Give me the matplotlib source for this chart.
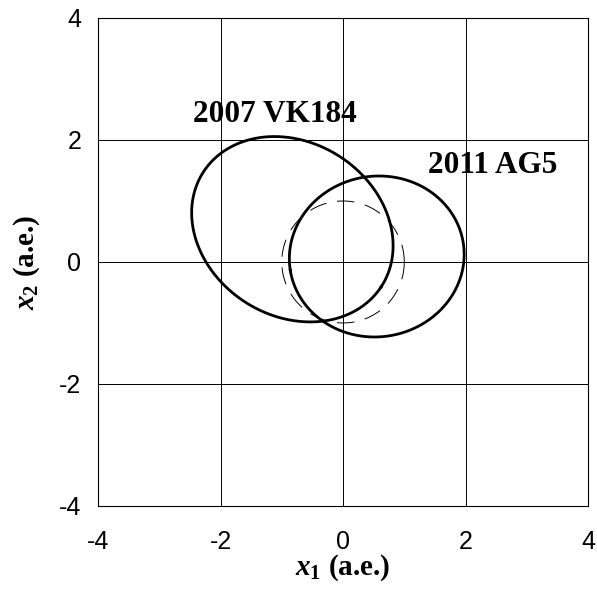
import matplotlib
matplotlib.use("Agg")
import matplotlib.pyplot as plt
import numpy as np

# orbit elements (projection on ecliptic plane)
names = ["2007 VK184", "2011 AG5"]
semi_major = [1.73, 1.43]      # a.e.
ecc = [0.57, 0.39]
peri_long = [327.0, 189.3]     # longitude of perihelion, deg
earth_r = 1.0

label_x = [-2.45, 1.39]
label_y = [2.42, 1.58]

ticks = [-4, -2, 0, 2, 4]
tick_labels = ['-4', '-2', '0', '2', '4']

plt.rcParams['mathtext.fontset'] = 'custom'
plt.rcParams['mathtext.it'] = 'Liberation Serif:italic:bold'
plt.rcParams['mathtext.rm'] = 'Liberation Serif:bold'

fig = plt.figure(figsize=(5.97, 5.90), dpi=100)
ax = fig.add_axes([0.1642, 0.1424, 0.8208, 0.8271])

nu = np.linspace(0, 2 * np.pi, 721)

# Earth orbit
ax.plot(earth_r * np.cos(nu), earth_r * np.sin(nu), color='k', lw=0.7,
        linestyle=(0, (18, 11)))

for a, e, w in zip(semi_major, ecc, peri_long):
    r = a * (1 - e**2) / (1 + e * np.cos(nu))
    th = nu + np.radians(w)
    ax.plot(r * np.cos(th), r * np.sin(th), color='k', lw=2.0)

for n, tx, ty in zip(names, label_x, label_y):
    ax.text(tx, ty, n, family='Liberation Serif', fontweight='bold',
            fontsize=22.5, ha='left', va='center')

ax.set_xlim(-4, 4)
ax.set_ylim(-4, 4)
ax.set_xticks(ticks)
ax.set_yticks(ticks)
ax.set_xticklabels(tick_labels)
ax.set_yticklabels(tick_labels)
ax.grid(True, color='k', lw=0.7)
ax.set_axisbelow(True)
for s in ax.spines.values():
    s.set_linewidth(0.8)

ax.tick_params(length=0, labelsize=18)
ax.tick_params(axis='x', pad=17)
ax.tick_params(axis='y', pad=12)
for lab in ax.get_xticklabels() + ax.get_yticklabels():
    lab.set_family('Liberation Sans')

ax.set_xlabel(r'$x_1$ (a.e.)', family='Liberation Serif', fontweight='bold', fontsize=21)
ax.set_ylabel(r'$x_2$ (a.e.)', family='Liberation Serif', fontweight='bold', fontsize=21)
ax.xaxis.set_label_coords(0.5, -0.094)
ax.yaxis.set_label_coords(-0.114, 0.5)

fig.savefig('out.png', dpi=100)
